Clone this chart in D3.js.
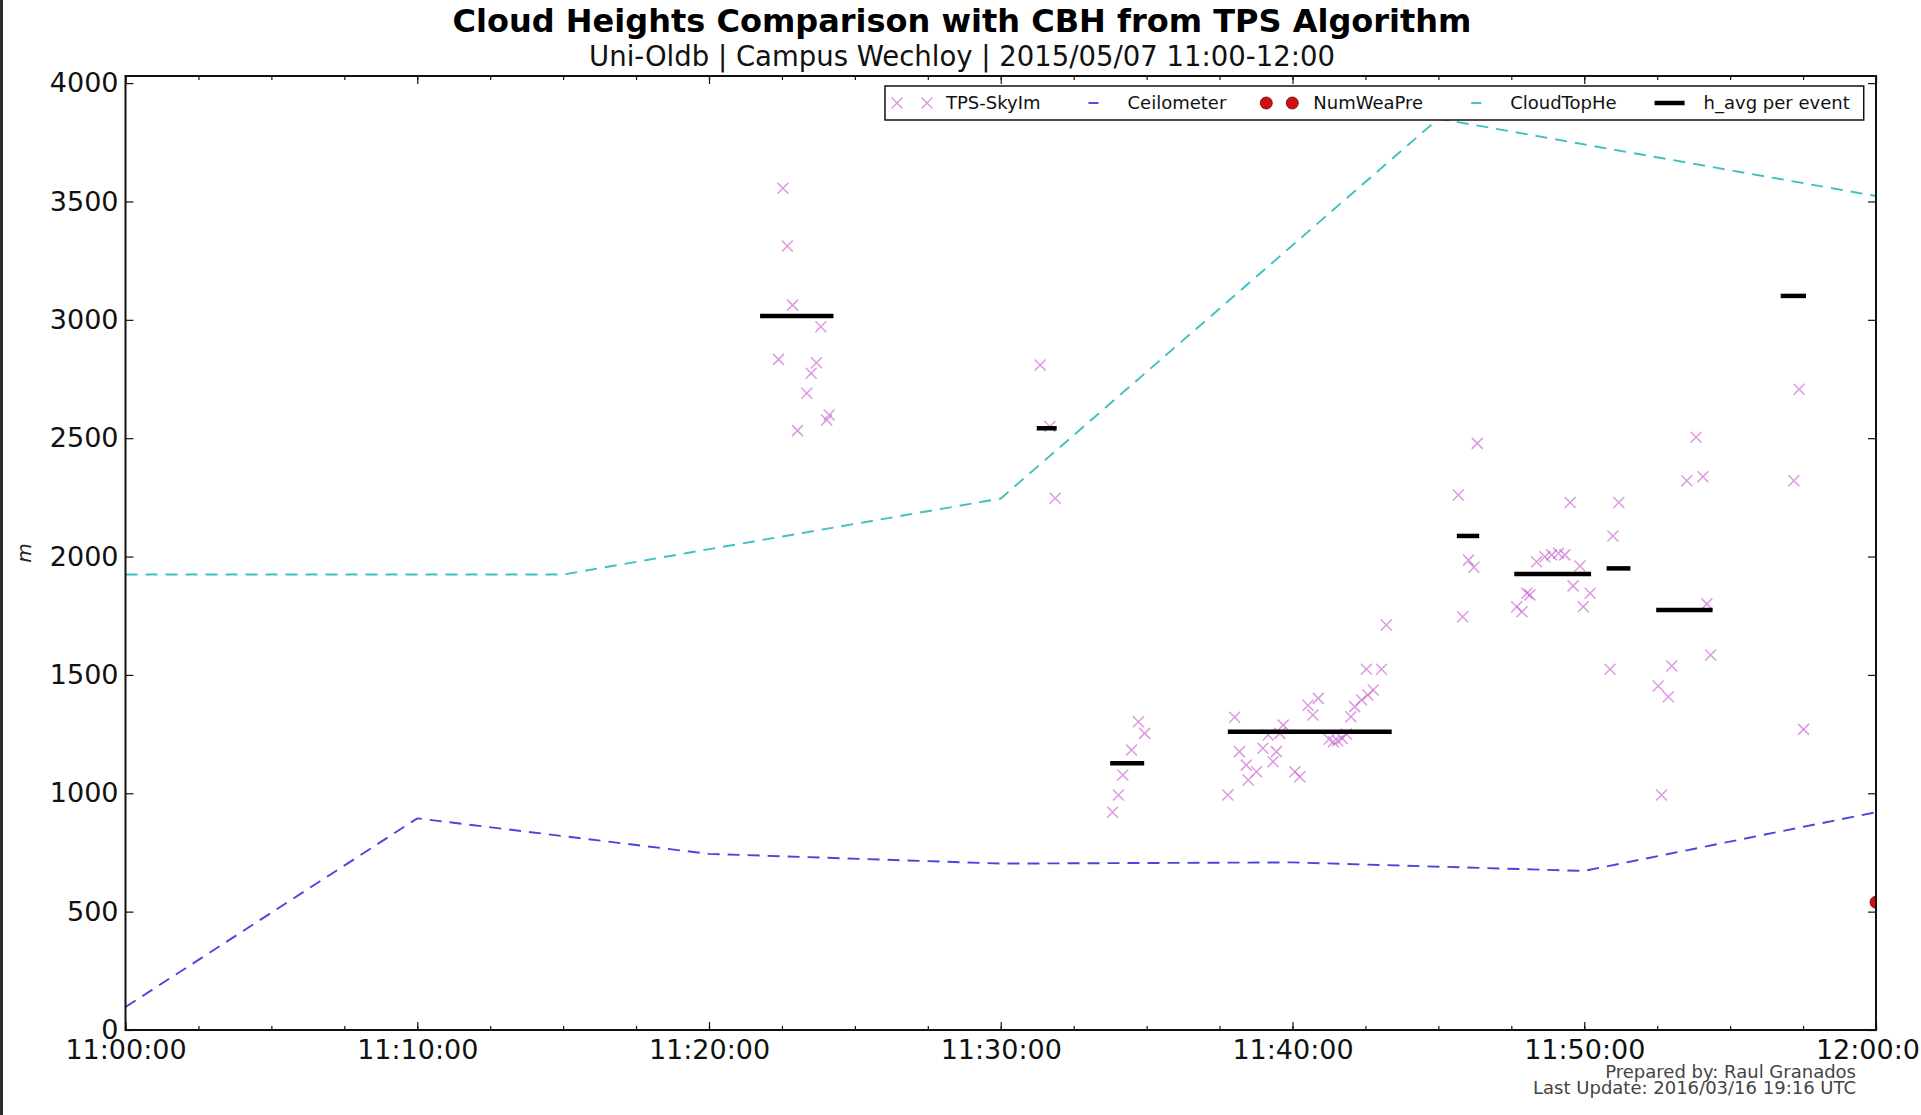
<!DOCTYPE html>
<html>
<head>
<meta charset="utf-8">
<script src="https://cdn.jsdelivr.net/npm/d3@7"></script>
<style>
  body { margin: 0; background: #fff; }
  svg { display: block; font-family: 'DejaVu Sans', sans-serif; }
</style>
</head>
<body>
<svg id="chart" width="1921" height="1115"></svg>
<script>
// TPS-SkyIm cloud base heights (time, m)
const tpsTimes = [
  '11:22:32', '11:22:41', '11:22:52', '11:23:50', '11:22:23', '11:23:41', '11:23:30', '11:23:21', '11:24:07', '11:24:02', '11:23:02',
  '11:31:21', '11:31:41', '11:31:52',
  '11:33:50', '11:34:02', '11:34:11', '11:34:29', '11:34:43', '11:34:56',
  '11:37:47', '11:38:01', '11:38:11', '11:38:25', '11:38:29', '11:38:46', '11:38:59', '11:39:10', '11:39:20', '11:39:27',
  '11:39:34', '11:39:41', '11:40:05', '11:40:15', '11:40:32', '11:40:42', '11:40:53', '11:41:15', '11:41:24', '11:41:33',
  '11:41:42', '11:41:51', '11:42:00', '11:42:08', '11:42:22', '11:42:35', '11:42:46', '11:42:32', '11:43:03', '11:43:13',
  '11:45:41', '11:46:20', '11:46:02', '11:46:13', '11:45:50',
  '11:48:02', '11:48:08', '11:47:41', '11:47:52', '11:48:22', '11:48:39', '11:48:53', '11:49:07', '11:49:20', '11:49:51',
  '11:49:37', '11:50:12', '11:49:58', '11:49:31',
  '11:51:11', '11:50:59', '11:50:53',
  '11:53:50', '11:53:31', '11:54:04', '11:54:12', '11:53:00', '11:52:32', '11:52:53', '11:54:20', '11:52:39',
  '11:57:22', '11:57:11', '11:57:31'
]
const tpsHeights = [
  3556, 3312, 3062, 2971, 2833, 2819, 2774, 2690, 2598, 2577, 2532,
  2809, 2549, 2246,
  920, 993, 1077, 1183, 1302, 1253,
  993, 1321, 1176, 1119, 1056, 1091, 1190, 1246, 1133, 1176,
  1253, 1288, 1091, 1070, 1372, 1331, 1401, 1228, 1218, 1222,
  1232, 1250, 1323, 1366, 1394, 1415, 1436, 1524, 1524, 1711,
  2260, 2478, 1985, 1955, 1746,
  1845, 1838, 1788, 1767, 1978, 1999, 2007, 2014, 2007, 1960,
  1876, 1845, 1788, 2228,
  2228, 2087, 1524,
  2504, 2320, 2337, 1800, 1538, 1453, 1408, 1584, 993,
  2707, 2320, 1270
]

// Ceilometer
const ceilTimes = ['11:00:00', '11:10:00', '11:20:00', '11:30:00', '11:40:00', '11:50:00', '12:00:00']
const ceilHeights = [97, 894, 744, 703, 708, 672, 920]

// Cloud top height
const topTimes = ['11:00:00', '11:15:00', '11:30:00', '11:45:00', '12:00:00']
const topHeights = [1924, 1924, 2245, 3850, 3523]

// NumWeaPre
const nwpTimes = ['12:00:00']
const nwpHeights = [540]

// h_avg per event
const avgStart = ['11:21:45', '11:31:14', '11:33:45', '11:37:47', '11:45:38', '11:47:36', '11:50:46', '11:52:28', '11:56:44']
const avgEnd = ['11:24:16', '11:31:55', '11:34:55', '11:43:24', '11:46:24', '11:50:14', '11:51:35', '11:54:24', '11:57:36']
const avgHeights = [3016, 2542, 1127, 1260, 2087, 1926, 1950, 1774, 3101]

const yTicks = [0, 500, 1000, 1500, 2000, 2500, 3000, 3500, 4000]
const legendLabels = ['TPS-SkyIm', 'Ceilometer', 'NumWeaPre', 'CloudTopHe', 'h_avg per event']

const violet = '#c456cc', blue = '#4646dc', cyan = '#3fc0c0', red = '#d01010'

function main() {
    let parse = d3.timeParse('%H:%M:%S')
    let svg = d3.select('#chart'),
        margin = {top: 76, left: 125.5, right: 45, bottom: 85},
        width = 1921 - margin.left - margin.right,
        height = 1115 - margin.top - margin.bottom

    let xScale = d3.scaleTime().domain([parse('11:00:00'), parse('12:00:00')]).range([margin.left, margin.left + width]),
        yScale = d3.scaleLinear().domain([0, 4030]).range([margin.top + height, margin.top])

    svg.append('rect').attr('width', 1921).attr('height', 1115).attr('fill', '#fff')
    svg.append('rect').attr('width', 3).attr('height', 1115).attr('fill', '#2a2a2a')

    svg.append('defs').append('clipPath').attr('id', 'plot-clip')
        .append('rect')
        .attr('x', margin.left).attr('y', margin.top)
        .attr('width', width).attr('height', height)

    let plot = svg.append('g').attr('clip-path', 'url(#plot-clip)')
    let cross = 'M-5.5,-5.5L5.5,5.5M-5.5,5.5L5.5,-5.5'

    // TPS markers
    plot.selectAll('path.tps')
        .data(tpsTimes.map((t, i) => ({t: parse(t), h: tpsHeights[i]})))
        .enter()
        .append('path')
        .attr('class', 'tps')
        .attr('transform', d => 'translate(' + xScale(d.t) + ',' + yScale(d.h) + ')')
        .attr('d', cross)
        .attr('stroke', violet)
        .attr('stroke-width', 1.5)
        .attr('stroke-opacity', 0.6)
        .attr('fill', 'none')

    let line = d3.line().x(d => xScale(d.t)).y(d => yScale(d.h))

    plot.append('path')
        .datum(ceilTimes.map((t, i) => ({t: parse(t), h: ceilHeights[i]})))
        .attr('d', line)
        .attr('fill', 'none')
        .attr('stroke', blue)
        .attr('stroke-width', 1.9)
        .attr('stroke-dasharray', '12,8')

    plot.append('path')
        .datum(topTimes.map((t, i) => ({t: parse(t), h: topHeights[i]})))
        .attr('d', line)
        .attr('fill', 'none')
        .attr('stroke', cyan)
        .attr('stroke-width', 1.9)
        .attr('stroke-dasharray', '12,8')

    plot.selectAll('circle.nwp')
        .data(nwpTimes.map((t, i) => ({t: parse(t), h: nwpHeights[i]})))
        .enter()
        .append('circle')
        .attr('cx', d => xScale(d.t))
        .attr('cy', d => yScale(d.h))
        .attr('r', 6)
        .attr('fill', red)
        .attr('stroke', '#600')
        .attr('stroke-width', 0.8)

    plot.selectAll('line.avg')
        .data(avgHeights.map((h, i) => ({t0: parse(avgStart[i]), t1: parse(avgEnd[i]), h: h})))
        .enter()
        .append('line')
        .attr('x1', d => xScale(d.t0))
        .attr('x2', d => xScale(d.t1))
        .attr('y1', d => yScale(d.h))
        .attr('y2', d => yScale(d.h))
        .attr('stroke', '#000')
        .attr('stroke-width', 4.5)

    // axes, ticks pointing inward
    let majorX = d3.range(0, 7).map(i => d3.timeMinute.offset(parse('11:00:00'), i * 10)),
        minorX = d3.range(0, 25).map(i => d3.timeSecond.offset(parse('11:00:00'), i * 150))

    let styleAxis = g => {
        g.select('.domain').remove()
        g.selectAll('.tick line').attr('stroke', '#111').attr('stroke-width', 1.2)
        g.selectAll('.tick text').attr('fill', '#111').attr('font-size', 27).attr('font-family', 'DejaVu Sans')
    }

    svg.append('g')
        .attr('transform', 'translate(0,' + (margin.top + height) + ')')
        .call(d3.axisBottom(xScale).tickValues(minorX).tickSize(-4).tickFormat(''))
        .call(styleAxis)
    svg.append('g')
        .attr('transform', 'translate(0,' + (margin.top + height) + ')')
        .call(d3.axisBottom(xScale).tickValues(majorX).tickSize(-8).tickPadding(10).tickFormat(d3.timeFormat('%H:%M:%S')))
        .call(styleAxis)
    svg.append('g')
        .attr('transform', 'translate(0,' + margin.top + ')')
        .call(d3.axisTop(xScale).tickValues(minorX).tickSize(-4).tickFormat(''))
        .call(styleAxis)
    svg.append('g')
        .attr('transform', 'translate(0,' + margin.top + ')')
        .call(d3.axisTop(xScale).tickValues(majorX).tickSize(-8).tickFormat(''))
        .call(styleAxis)
    svg.append('g')
        .attr('transform', 'translate(' + margin.left + ',0)')
        .call(d3.axisLeft(yScale).tickValues(yTicks).tickSize(-8).tickPadding(7).tickFormat(d3.format('d')))
        .call(styleAxis)
    svg.append('g')
        .attr('transform', 'translate(' + (margin.left + width) + ',0)')
        .call(d3.axisRight(yScale).tickValues(yTicks).tickSize(-8).tickFormat(''))
        .call(styleAxis)

    svg.append('rect')
        .attr('x', margin.left).attr('y', margin.top)
        .attr('width', width).attr('height', height)
        .attr('fill', 'none')
        .attr('stroke', '#111')
        .attr('stroke-width', 2)

    // legend
    let legend = svg.append('g'),
        lx = 897, ly = 103
    let box = legend.append('rect')
        .attr('y', 86).attr('height', 34)
        .attr('fill', '#fff').attr('stroke', '#111').attr('stroke-width', 1.5)
    let boxLeft = lx - 12
    legendLabels.forEach((label, i) => {
        let item = legend.append('g')
        if (i === 0) {
            [0, 30].forEach(dx => item.append('path')
                .attr('transform', 'translate(' + (lx + dx) + ',' + ly + ')')
                .attr('d', cross)
                .attr('stroke', violet).attr('stroke-width', 1.5).attr('stroke-opacity', 0.6))
        } else if (i === 2) {
            [2, 28].forEach(dx => item.append('circle')
                .attr('cx', lx + dx).attr('cy', ly).attr('r', 6)
                .attr('fill', red).attr('stroke', '#600').attr('stroke-width', 0.8))
        } else if (i === 4) {
            item.append('line')
                .attr('x1', lx).attr('x2', lx + 30).attr('y1', ly).attr('y2', ly)
                .attr('stroke', '#000').attr('stroke-width', 4.5)
        } else {
            item.append('line')
                .attr('x1', lx + 10).attr('x2', lx + 20).attr('y1', ly).attr('y2', ly)
                .attr('stroke', i === 1 ? blue : cyan).attr('stroke-width', 1.9)
        }
        let txt = item.append('text')
            .attr('x', lx + 49).attr('y', ly)
            .attr('dy', '0.36em')
            .attr('font-size', 18)
            .attr('fill', '#111')
            .text(label)
        let w = txt.node().getComputedTextLength()
        lx = lx + 49 + w + 38
        if (i === legendLabels.length - 1) box.attr('x', boxLeft).attr('width', lx - 38 + 14 - boxLeft)
    })

    // titles
    svg.append('text')
        .attr('x', 962).attr('y', 32)
        .attr('text-anchor', 'middle')
        .attr('font-size', 32).attr('font-weight', 'bold')
        .attr('fill', '#000')
        .text('Cloud Heights Comparison with CBH from TPS Algorithm')
    svg.append('text')
        .attr('x', 962).attr('y', 66)
        .attr('text-anchor', 'middle')
        .attr('font-size', 27.5)
        .attr('fill', '#111')
        .text('Uni-Oldb | Campus Wechloy | 2015/05/07 11:00-12:00')

    svg.append('text')
        .attr('transform', 'translate(31,' + (margin.top + height / 2) + ') rotate(-90)')
        .attr('text-anchor', 'middle')
        .attr('font-size', 20).attr('font-style', 'italic')
        .attr('fill', '#222')
        .text('m')

    svg.append('text')
        .attr('x', 1856).attr('y', 1078)
        .attr('text-anchor', 'end')
        .attr('font-size', 18).attr('fill', '#444')
        .text('Prepared by: Raul Granados')
    svg.append('text')
        .attr('x', 1856).attr('y', 1094)
        .attr('text-anchor', 'end')
        .attr('font-size', 18).attr('fill', '#444')
        .text('Last Update: 2016/03/16 19:16 UTC')
}

main()
</script>
</body>
</html>
